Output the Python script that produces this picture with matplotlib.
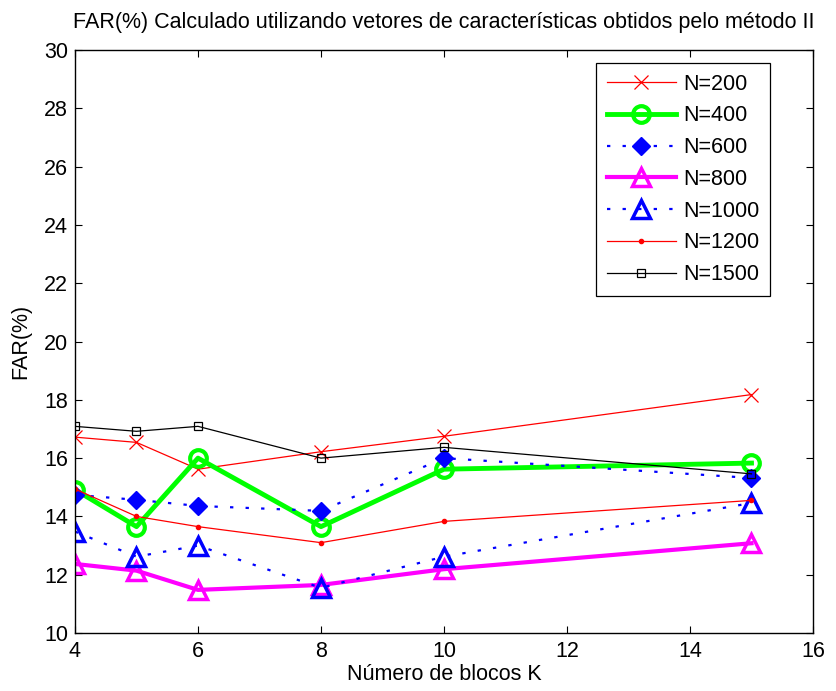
import matplotlib
matplotlib.use("Agg")
import matplotlib.pyplot as plt

plt.rcParams['font.family'] = ['Liberation Sans', 'DejaVu Sans']

K = [4, 5, 6, 8, 10, 15]
far_200 = [16.72, 16.54, 15.62, 16.22, 16.75, 18.18]
far_400 = [14.92, 13.65, 16.00, 13.65, 15.62, 15.83]
far_600 = [14.74, 14.57, 14.36, 14.19, 16.00, 15.32]
far_800 = [12.37, 12.14, 11.48, 11.65, 12.19, 13.08]
far_1000 = [13.48, 12.62, 13.00, 11.55, 12.62, 14.46]
far_1200 = [14.94, 14.00, 13.65, 13.10, 13.83, 14.55]
far_1500 = [17.09, 16.92, 17.09, 16.00, 16.37, 15.46]
labels = ["N=200", "N=400", "N=600", "N=800", "N=1000", "N=1200", "N=1500"]

FS = 15.5
dotted = (0, (1.5, 5.5))

fig = plt.figure(figsize=(8.37, 6.91), dpi=100)
ax = fig.add_axes([0.0896, 0.0839, 0.8817, 0.8437])

ax.plot(K, far_200, color='red', lw=0.9, marker='x', ms=10, mew=0.9, label=labels[0])
ax.plot(K, far_400, color='#00ff00', lw=3.5, marker='o', ms=12, mfc='none', mew=3, label=labels[1])
ax.plot(K, far_600, color='blue', lw=1.6, ls=dotted, marker='D', ms=9, mfc='blue', label=labels[2])
ax.plot(K, far_800, color='magenta', lw=3, marker='^', ms=13, mfc='none', mew=2.5, label=labels[3])
ax.plot(K, far_1000, color='blue', lw=1.6, ls=dotted, marker='^', ms=13, mfc='none', mew=2.5, label=labels[4])
ax.plot(K, far_1200, color='red', lw=0.9, marker='.', ms=6, label=labels[5])
ax.plot(K, far_1500, color='black', lw=0.9, marker='s', ms=6, mfc='none', mew=0.9, label=labels[6])

ax.set_xlim(4, 16)
ax.set_ylim(10, 30)
ax.set_xticks(range(4, 17, 2))
ax.set_yticks(range(10, 31, 2))
ax.tick_params(direction='in', top=True, right=True, labelsize=FS, length=5, width=0.8)
ax.tick_params(axis='x', pad=6)
ax.tick_params(axis='y', pad=5)
for s in ax.spines.values():
    s.set_linewidth(1.0)

ax.set_xlabel("Número de blocos K", fontsize=FS, labelpad=1)
ax.set_ylabel("FAR(%)", fontsize=FS, labelpad=9)
ax.set_title("FAR(%) Calculado utilizando vetores de características obtidos pelo método II",
             fontsize=FS, pad=16)

leg = ax.legend(loc='upper right', bbox_to_anchor=(0.942, 0.978), borderaxespad=0,
                fontsize=FS, frameon=True, fancybox=False, edgecolor='black', framealpha=1,
                handlelength=3.2, borderpad=0.5, labelspacing=0.5, handletextpad=0.35)
leg.get_frame().set_linewidth(0.9)

fig.savefig("out.png", dpi=100)
